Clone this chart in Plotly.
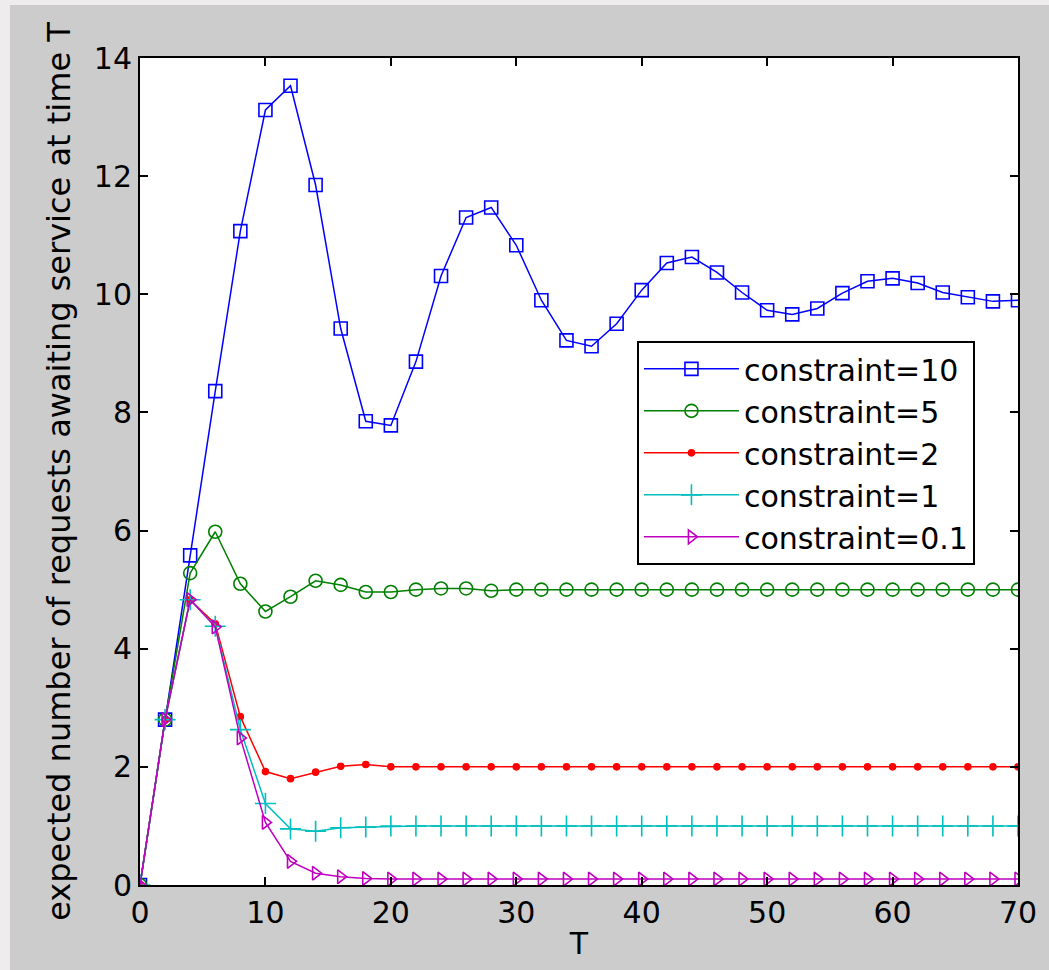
import plotly.graph_objects as go

T = list(range(0, 71, 2))

c10 = [0, 2.8, 5.58, 8.36, 11.07, 13.12, 13.53, 11.85, 9.42, 7.85, 7.78, 8.86, 10.31, 11.3,
       11.47, 10.83, 9.9, 9.22, 9.12, 9.5, 10.07, 10.53, 10.63, 10.37, 10.03, 9.73, 9.66,
       9.76, 10.02, 10.22, 10.27, 10.19, 10.03, 9.95, 9.88, 9.9]
c5 = [0, 2.8, 5.28, 5.98, 5.1, 4.63, 4.88, 5.15, 5.08, 4.96, 4.96, 5.0, 5.02, 5.02, 4.98,
      5.0, 5.0, 5.0, 5.0, 5.0, 5.0, 5.0, 5.0, 5.0, 5.0, 5.0, 5.0, 5.0, 5.0, 5.0, 5.0, 5.0,
      5.0, 5.0, 5.0, 5.0]
c2 = [0, 2.8, 4.83, 4.42, 2.85, 1.92, 1.8, 1.91, 2.01, 2.04, 2.0, 2.0, 2.0, 2.0, 2.0, 2.0,
      2.0, 2.0, 2.0, 2.0, 2.0, 2.0, 2.0, 2.0, 2.0, 2.0, 2.0, 2.0, 2.0, 2.0, 2.0, 2.0, 2.0,
      2.0, 2.0, 2.0]
c1 = [0, 2.8, 4.83, 4.38, 2.63, 1.38, 0.95, 0.91, 0.97, 0.98, 1.0, 1.0, 1.0, 1.0, 1.0, 1.0,
      1.0, 1.0, 1.0, 1.0, 1.0, 1.0, 1.0, 1.0, 1.0, 1.0, 1.0, 1.0, 1.0, 1.0, 1.0, 1.0, 1.0,
      1.0, 1.0, 1.0]
c01 = [0, 2.8, 4.83, 4.37, 2.49, 1.06, 0.4, 0.2, 0.14, 0.11, 0.1, 0.1, 0.1, 0.1, 0.1, 0.1,
       0.1, 0.1, 0.1, 0.1, 0.1, 0.1, 0.1, 0.1, 0.1, 0.1, 0.1, 0.1, 0.1, 0.1, 0.1, 0.1, 0.1,
       0.1, 0.1, 0.1]

names = ["constraint=10", "constraint=5", "constraint=2", "constraint=1", "constraint=0.1"]
colors = ["#0000ff", "#008000", "#ff0000", "#00bfbf", "#bf00bf"]
symbols = ["square-open", "circle-open", "circle", "cross-thin", "triangle-right-open"]
sizes = [13, 13, 6, 15, 12]
series = [c10, c5, c2, c1, c01]

fig = go.Figure()
for name, col, sym, sz, ys in zip(names, colors, symbols, sizes, series):
    fig.add_trace(go.Scatter(
        x=T, y=ys, name=name, mode="lines+markers",
        line=dict(color=col, width=1.5),
        marker=dict(symbol=sym, size=sz, color=col, line=dict(color=col, width=1.6)),
    ))

FONT = "DejaVu Sans"
axis_common = dict(
    showline=True, linecolor="black", linewidth=2, mirror="allticks",
    ticks="inside", ticklen=8, tickwidth=1.5, tickcolor="black",
    showgrid=False, zeroline=False,
    tickfont=dict(family=FONT, size=30, color="black"),
)

fig.update_layout(
    width=1049, height=970,
    margin=dict(l=140, r=31, t=58, b=85),
    paper_bgcolor="#cccccc", plot_bgcolor="white",
    showlegend=True,
    legend=dict(
        x=0.566, y=0.658, xanchor="left", yanchor="top",
        bgcolor="white", bordercolor="black", borderwidth=2,
        font=dict(family=FONT, size=30, color="black"),
        itemwidth=95, tracegroupgap=0,
    ),
    xaxis=dict(range=[0, 70], tickvals=[0, 10, 20, 30, 40, 50, 60, 70],
               title=dict(text="T", font=dict(family=FONT, size=30, color="black"), standoff=4),
               **axis_common),
    yaxis=dict(range=[0, 14], tickvals=[0, 2, 4, 6, 8, 10, 12, 14],
               title=dict(text="expected number of requests awaiting service at time T",
                          font=dict(family=FONT, size=32, color="black"), standoff=14),
               **axis_common),
    shapes=[
        dict(type="rect", xref="paper", yref="paper", x0=-140/878, x1=(10-140)/878,
             y0=-85/827, y1=(885+5)/827 + 0.2, fillcolor="#efeced", line=dict(width=0), layer="below"),
        dict(type="rect", xref="paper", yref="paper", x0=-140/878, x1=1.1,
             y0=(885-5)/827, y1=(885+58)/827 + 0.05, fillcolor="#efeced", line=dict(width=0), layer="below"),
    ],
)

fig.write_html("out.html")
